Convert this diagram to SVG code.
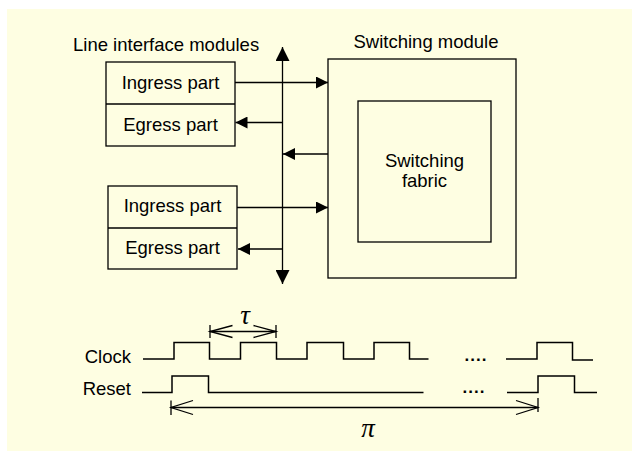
<svg xmlns="http://www.w3.org/2000/svg" width="632" height="451" viewBox="0 0 632 451">
<style>
.t{font-family:"Liberation Sans",Arial,sans-serif;font-size:18.5px;fill:#000}
.box{fill:none;stroke:#000;stroke-width:1.3}
.ln{fill:none;stroke:#000;stroke-width:1.3}
.wave{fill:none;stroke:#000;stroke-width:1.5}
.g{font-family:"Liberation Serif","Times New Roman",serif;font-style:italic;font-size:27px;fill:#000}
.dots{font-family:"Liberation Sans",Arial,sans-serif;font-weight:bold;font-size:17px;letter-spacing:1px;fill:#000}
</style>
<defs>
<marker id="ah" viewBox="0 0 12 12" refX="12" refY="6" markerWidth="12" markerHeight="12" markerUnits="userSpaceOnUse" orient="auto">
<path d="M0,0 L12,6 L0,12 Z" fill="#000"/>
</marker>
<marker id="bh" viewBox="0 0 14 14" refX="14" refY="7" markerWidth="14" markerHeight="14" markerUnits="userSpaceOnUse" orient="auto">
<path d="M0,0 L14,7 L0,14 Z" fill="#000"/>
</marker>
</defs>
<rect x="7" y="9" width="625" height="442" fill="#FEFEE2"/>
<text class="t" x="73" y="51">Line interface modules</text>
<g id="lim1">
<rect class="box" x="106" y="62" width="129" height="84"/>
<line class="ln" x1="106" y1="104" x2="235" y2="104"/>
<text class="t" x="170.5" y="89" text-anchor="middle">Ingress part</text>
<text class="t" x="170.5" y="131" text-anchor="middle">Egress part</text>
</g>
<g id="lim2">
<rect class="box" x="108" y="186" width="129" height="83"/>
<line class="ln" x1="108" y1="228" x2="237" y2="228"/>
<text class="t" x="172.5" y="212" text-anchor="middle">Ingress part</text>
<text class="t" x="172.5" y="254" text-anchor="middle">Egress part</text>
</g>
<g id="switch">
<text class="t" x="426" y="48" text-anchor="middle">Switching module</text>
<rect class="box" x="328" y="59" width="188" height="219"/>
<rect class="box" x="358" y="101" width="133" height="141"/>
<text class="t" x="424.5" y="167" text-anchor="middle">Switching</text>
<text class="t" x="424.5" y="187" text-anchor="middle">fabric</text>
</g>
<g id="connectors">
<line class="ln" x1="282.5" y1="166" x2="282.5" y2="47" marker-end="url(#bh)"/>
<line class="ln" x1="282.5" y1="166" x2="282.5" y2="284" marker-end="url(#bh)"/>
<line class="ln" x1="235" y1="82.5" x2="328" y2="82.5" marker-end="url(#ah)"/>
<line class="ln" x1="282.5" y1="122.5" x2="235.5" y2="122.5" marker-end="url(#ah)"/>
<line class="ln" x1="328" y1="154" x2="283" y2="154" marker-end="url(#ah)"/>
<line class="ln" x1="237" y1="207.5" x2="328" y2="207.5" marker-end="url(#ah)"/>
<line class="ln" x1="282.5" y1="249" x2="238" y2="249" marker-end="url(#ah)"/>
</g>
<g id="timing">
<text class="t" x="131" y="363" text-anchor="end">Clock</text>
<text class="t" x="131" y="395" text-anchor="end">Reset</text>
<path class="wave" d="M143,359 H174 V342.5 H209.5 V359 H240.5 V342.5 H276.5 V359 H307 V342.5 H343.5 V359 H374 V342.5 H409.5 V359 H428.5"/>
<path class="wave" d="M506,359 H537 V342.5 H572.5 V360 H593"/>
<text class="dots" x="476" y="361" text-anchor="middle">....</text>
<path class="wave" d="M142,392.5 H172 V376 H208.5 V392.5 H423.5"/>
<path class="wave" d="M507,392.5 H538 V376 H574.5 V392.5 H597"/>
<text class="dots" x="474" y="393" text-anchor="middle">....</text>
<g id="tau">
<line class="ln" x1="210" y1="325" x2="210" y2="338"/>
<line class="ln" x1="276" y1="325" x2="276" y2="338"/>
<line class="ln" x1="210" y1="331.5" x2="276" y2="331.5"/>
<path class="ln" d="M232.5,325.5 L210,331.5 L232.5,337.5 M253.5,325.5 L276,331.5 L253.5,337.5"/>
<text class="g" x="245" y="324" text-anchor="middle">τ</text>
</g>
<g id="pi">
<line class="ln" x1="171" y1="400.5" x2="171" y2="415"/>
<line class="ln" x1="538" y1="398" x2="538" y2="412"/>
<line class="ln" x1="171" y1="407.5" x2="538" y2="407.5"/>
<path class="ln" d="M193,400.5 L171,407.5 L193,414.5 M516,400.5 L538,407.5 L516,414.5"/>
<text class="g" x="368" y="437" text-anchor="middle">π</text>
</g>
</g>
</svg>
